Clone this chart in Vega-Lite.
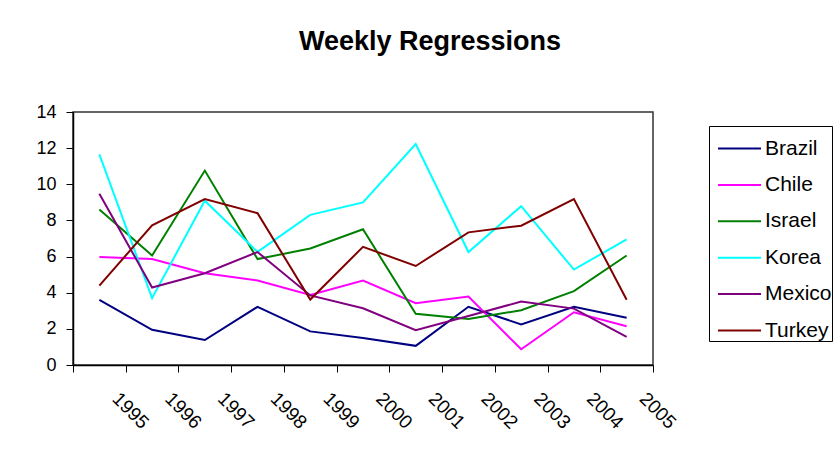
{
  "$schema": "https://vega.github.io/schema/vega-lite/v6.json",
  "width": 580,
  "height": 253,
  "autosize": "none",
  "padding": {"left": 73, "top": 112, "right": 187, "bottom": 93},
  "background": "white",
  "title": {
    "text": "Weekly Regressions",
    "font": "Liberation Sans",
    "fontSize": 27,
    "fontWeight": "bold",
    "color": "black",
    "anchor": "middle",
    "frame": "group",
    "baseline": "alphabetic",
    "dx": 67,
    "offset": 26
  },
  "data": {
    "values": [
      {"year": "1995", "country": "Brazil", "value": 3.61},
      {"year": "1996", "country": "Brazil", "value": 1.95},
      {"year": "1997", "country": "Brazil", "value": 1.38},
      {"year": "1998", "country": "Brazil", "value": 3.22},
      {"year": "1999", "country": "Brazil", "value": 1.86},
      {"year": "2000", "country": "Brazil", "value": 1.49},
      {"year": "2001", "country": "Brazil", "value": 1.06},
      {"year": "2002", "country": "Brazil", "value": 3.22},
      {"year": "2003", "country": "Brazil", "value": 2.25},
      {"year": "2004", "country": "Brazil", "value": 3.22},
      {"year": "2005", "country": "Brazil", "value": 2.62},
      {"year": "1995", "country": "Chile", "value": 5.97},
      {"year": "1996", "country": "Chile", "value": 5.86},
      {"year": "1997", "country": "Chile", "value": 5.08},
      {"year": "1998", "country": "Chile", "value": 4.68},
      {"year": "1999", "country": "Chile", "value": 3.87},
      {"year": "2000", "country": "Chile", "value": 4.67},
      {"year": "2001", "country": "Chile", "value": 3.42},
      {"year": "2002", "country": "Chile", "value": 3.79},
      {"year": "2003", "country": "Chile", "value": 0.87},
      {"year": "2004", "country": "Chile", "value": 2.92},
      {"year": "2005", "country": "Chile", "value": 2.14},
      {"year": "1995", "country": "Israel", "value": 8.61},
      {"year": "1996", "country": "Israel", "value": 6.06},
      {"year": "1997", "country": "Israel", "value": 10.76},
      {"year": "1998", "country": "Israel", "value": 5.86},
      {"year": "1999", "country": "Israel", "value": 6.45},
      {"year": "2000", "country": "Israel", "value": 7.51},
      {"year": "2001", "country": "Israel", "value": 2.83},
      {"year": "2002", "country": "Israel", "value": 2.55},
      {"year": "2003", "country": "Israel", "value": 3.03},
      {"year": "2004", "country": "Israel", "value": 4.09},
      {"year": "2005", "country": "Israel", "value": 6.06},
      {"year": "1995", "country": "Korea", "value": 11.66},
      {"year": "1996", "country": "Korea", "value": 3.7},
      {"year": "1997", "country": "Korea", "value": 9.09},
      {"year": "1998", "country": "Korea", "value": 6.26},
      {"year": "1999", "country": "Korea", "value": 8.31},
      {"year": "2000", "country": "Korea", "value": 9.0},
      {"year": "2001", "country": "Korea", "value": 12.23},
      {"year": "2002", "country": "Korea", "value": 6.25},
      {"year": "2003", "country": "Korea", "value": 8.79},
      {"year": "2004", "country": "Korea", "value": 5.28},
      {"year": "2005", "country": "Korea", "value": 6.95},
      {"year": "1995", "country": "Mexico", "value": 9.48},
      {"year": "1996", "country": "Mexico", "value": 4.29},
      {"year": "1997", "country": "Mexico", "value": 5.08},
      {"year": "1998", "country": "Mexico", "value": 6.25},
      {"year": "1999", "country": "Mexico", "value": 3.85},
      {"year": "2000", "country": "Mexico", "value": 3.14},
      {"year": "2001", "country": "Mexico", "value": 1.93},
      {"year": "2002", "country": "Mexico", "value": 2.71},
      {"year": "2003", "country": "Mexico", "value": 3.51},
      {"year": "2004", "country": "Mexico", "value": 3.12},
      {"year": "2005", "country": "Mexico", "value": 1.56},
      {"year": "1995", "country": "Turkey", "value": 4.39},
      {"year": "1996", "country": "Turkey", "value": 7.73},
      {"year": "1997", "country": "Turkey", "value": 9.18},
      {"year": "1998", "country": "Turkey", "value": 8.4},
      {"year": "1999", "country": "Turkey", "value": 3.62},
      {"year": "2000", "country": "Turkey", "value": 6.54},
      {"year": "2001", "country": "Turkey", "value": 5.48},
      {"year": "2002", "country": "Turkey", "value": 7.34},
      {"year": "2003", "country": "Turkey", "value": 7.71},
      {"year": "2004", "country": "Turkey", "value": 9.18},
      {"year": "2005", "country": "Turkey", "value": 3.61}
    ]
  },
  "mark": {"type": "line", "strokeWidth": 2},
  "encoding": {
    "x": {
      "field": "year",
      "type": "ordinal",
      "scale": {"type": "band", "paddingInner": 0, "paddingOuter": 0},
      "axis": {
        "title": null,
        "tickBand": "extent",
        "tickSize": 7,
        "tickColor": "black",
        "domainColor": "black",
        "domainWidth": 1.5,
        "labelAngle": 45,
        "labelAlign": "left",
        "labelBaseline": "top",
        "labelOffset": 22,
        "labelPadding": 17,
        "labelFont": "Liberation Sans",
        "labelFontSize": 19,
        "labelColor": "black"
      }
    },
    "y": {
      "field": "value",
      "type": "quantitative",
      "scale": {"domain": [0, 14], "nice": false},
      "axis": {
        "title": null,
        "values": [0, 2, 4, 6, 8, 10, 12, 14],
        "grid": false,
        "tickSize": 7,
        "tickColor": "black",
        "domainColor": "black",
        "domainWidth": 1.5,
        "labelPadding": 10,
        "labelFont": "Liberation Sans",
        "labelFontSize": 18,
        "labelColor": "black"
      }
    },
    "color": {
      "field": "country",
      "type": "nominal",
      "scale": {
        "domain": ["Brazil", "Chile", "Israel", "Korea", "Mexico", "Turkey"],
        "range": ["#000080", "#FF00FF", "#008000", "#00FFFF", "#800080", "#800000"]
      },
      "legend": {
        "title": null,
        "orient": "none",
        "legendX": 636,
        "legendY": 14,
        "strokeColor": "black",
        "fillColor": "white",
        "padding": 0,
        "symbolType": "stroke",
        "symbolSize": 1849,
        "symbolStrokeWidth": 2,
        "symbolOffset": 8,
        "labelOffset": 3,
        "labelFont": "Liberation Sans",
        "labelFontSize": 21,
        "labelColor": "black",
        "labelLimit": 300,
        "rowPadding": 3.4
      }
    }
  },
  "config": {
    "view": {"stroke": "#333333", "strokeWidth": 1.5}
  }
}
